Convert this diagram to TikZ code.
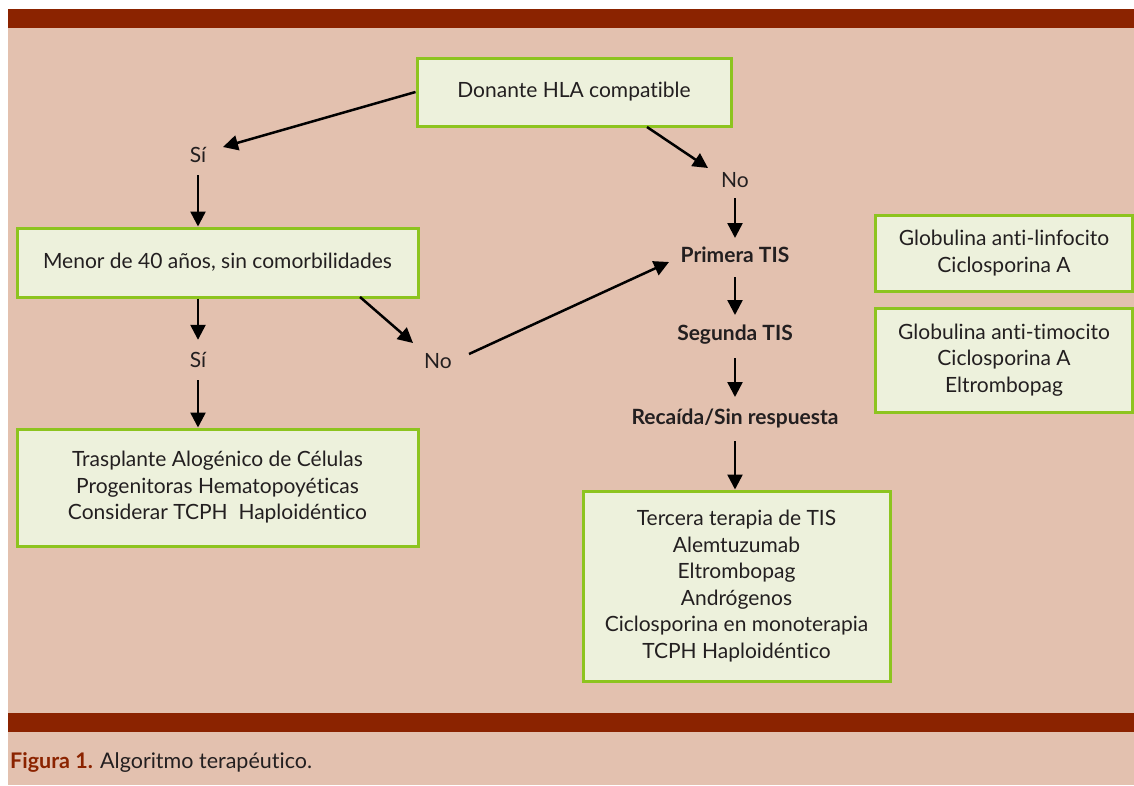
\documentclass[tikz,border=0pt]{standalone}
\usepackage{fontspec}
\setmainfont[Ligatures=NoCommon]{Lato}
\usetikzlibrary{arrows.meta,calc}
\definecolor{pagebg}{RGB}{227,193,175}
\definecolor{rust}{RGB}{139,35,0}
\definecolor{boxfill}{RGB}{237,241,220}
\definecolor{boxline}{RGB}{141,196,31}
\definecolor{ink}{RGB}{35,31,32}
\begin{document}
\begin{tikzpicture}[x=1pt,y=-1pt,
  box/.style={draw=boxline, fill=boxfill, line width=3pt, inner sep=0pt, align=center,
    text=ink, font=\fontsize{21}{26.5}\selectfont},
  lbl/.style={inner sep=0pt, minimum width=44pt, minimum height=40pt, text=ink,
    font=\fontsize{21}{24}\selectfont},
  blbl/.style={lbl, font=\fontsize{21}{24}\selectfont\bfseries},
  arr/.style={line width=2.5pt, draw=black, -{Triangle[length=15pt,width=15pt]}}]

% page and panel
\fill[white] (0,0) rectangle (1134,785);
\fill[pagebg] (8,9) rectangle (1134,785);
\fill[rust] (8,9) rectangle (1134,28);
\fill[rust] (8,713) rectangle (1134,732);
\useasboundingbox (0,0) rectangle (1134,785);

% boxes
\node[box, minimum width=314pt, minimum height=68pt] (don) at (574,92) {Donante HLA compatible};
\node[box, minimum width=401pt, minimum height=69pt] (menor) at (217.5,262.5) {Menor de 40 años, sin comorbilidades};
\node[box, minimum width=401pt, minimum height=117pt] (tras) at (217.5,487.5)
  {Trasplante Alogénico de Células\\Progenitoras Hematopoyéticas\\Considerar TCPH\ \ Haploidéntico};
\node[box, minimum width=307pt, minimum height=190pt] (terc) at (736.5,586)
  {Tercera terapia de TIS\\Alemtuzumab\\Eltrombopag\\Andrógenos\\Ciclosporina en monoterapia\\TCPH Haploidéntico};
\node[box, minimum width=257pt, minimum height=76pt] (globa) at (1004,253)
  {Globulina anti-linfocito\\Ciclosporina A};
\node[box, minimum width=257pt, minimum height=104pt] (globb) at (1004,360)
  {Globulina anti-timocito\\Ciclosporina A\\Eltrombopag};

% decision labels
\node[lbl] (si1) at (198,155) {Sí};
\node[lbl] (si2) at (198,360) {Sí};
\node[lbl] (no1) at (735,180) {No};
\node[lbl, minimum width=50pt] (no2) at (438,361) {No};
\node[blbl] (prim) at (735,255) {Primera TIS};
\node[blbl] (seg) at (735,335) {Segunda TIS};
\node[blbl] (rec) at (735,418) {Recaída/Sin respuesta};

% connectors
\draw[arr] (don.west) -- ($(si1.center)+(25,-8)$);
\draw[arr] (si1.south) -- (si1.south |- menor.north);
\draw[arr] (menor.south -| si2) -- (si2.north);
\draw[arr] (si2.south) -- (si2.south |- tras.north);
\draw[arr] ($(don.center)+(73,35)$) -- ($(no1.center)+(-27,-12)$);
\draw[arr] ($(no1.center)+(0,18)$) -- ($(prim.center)+(0,-17)$);
\draw[arr] ($(menor.center)+(142.5,34.5)$) -- ($(no2.center)+(-25,-18)$);
\draw[arr] ($(no2.center)+(31,-7)$) -- ($(prim.center)+(-66,7)$);
\draw[arr] ($(prim.center)+(0,22)$) -- ($(seg.center)+(0,-20)$);
\draw[arr] ($(seg.center)+(0,23)$) -- ($(rec.center)+(0,-21)$);
\draw[arr] ($(rec.center)+(0,23)$) -- (rec.center |- terc.north);

% caption
\node[anchor=base west, inner sep=0pt, text=ink, font=\fontsize{21.5}{24}\selectfont] (cap) at (10,768)
  {\textcolor{rust}{\bfseries Figura 1.} Algoritmo terapéutico.};
\end{tikzpicture}
\end{document}
